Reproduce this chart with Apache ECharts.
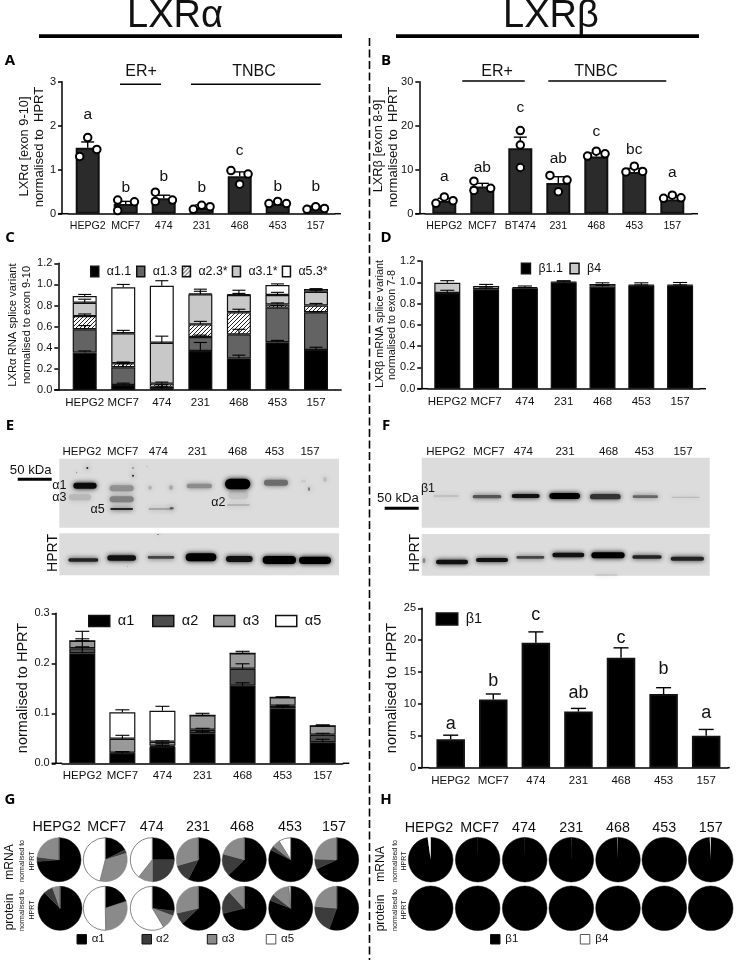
<!DOCTYPE html>
<html><head><meta charset="utf-8">
<style>html,body{margin:0;padding:0;background:#fff}#c{width:736px;height:963px}</style>
<script src="https://cdn.jsdelivr.net/npm/echarts@6/dist/echarts.min.js"></script>
</head><body><div id="c"></div>
<script>
const FONT='"Liberation Sans",Arial,sans-serif';
const cellLines=['HEPG2','MCF7','474','231','468','453','157'];
const cellLinesB=['HEPG2','MCF7','BT474','231','468','453','157'];

// Panel A
const valsA=[1.5,0.22,0.35,0.13,0.85,0.22,0.12];
const capsA=[1.63,0.28,0.42,0.2,0.95,0.26,0.17];
const dotsA=[[1.73,1.30,1.46],[0.31,0.07,0.27],[0.49,0.28,0.31],[0.10,0.19,0.16],[0.98,0.67,0.90],[0.23,0.28,0.23],[0.10,0.16,0.12]];
const jitterA=[[0,-0.21,0.24],[-0.21,-0.21,0.23],[-0.22,-0.22,0.23],[-0.22,0,0.22],[-0.23,0,0.22],[-0.23,0,0.23],[-0.23,0,0.23]];
const lettersA=['a','b','b','b','c','b','b'];
const letterYA=[2.24,0.58,0.84,0.58,1.43,0.61,0.61];
// Panel B
const valsB=[2.9,6.2,14.9,7.0,13.0,9.5,3.2];
const capsB=[3.5,6.9,17.4,8.4,13.8,10.3,3.8];
const dotsB=[[2.35,3.8,2.95],[7.4,5.3,5.76],[18.9,15.6,10.5],[8.7,5.0,7.65],[13.1,14.2,13.6],[9.5,10.8,9.6],[3.5,4.2,3.6]];
const jitterB=[[-0.22,0,0.23],[-0.22,-0.22,0.22],[0,0,0],[-0.22,0,0.23],[-0.23,0,0.23],[-0.22,0,0.22],[-0.23,0,0.23]];
const lettersB=['a','ab','c','ab','c','bc','a'];
const letterYB=[8.4,10.5,24.2,12.6,18.6,14.6,9.3];
// Panel C (stacked)
const c_a11=[0.354,0.047,0.01,0.37,0.30,0.452,0.38];
const c_a13=[0.221,0.168,0.02,0.132,0.227,0.328,0.356];
const c_a23=[0.125,0.038,0.03,0.12,0.209,0.03,0.064];
const c_a31=[0.127,0.284,0.388,0.284,0.164,0.09,0.13];
const c_a53=[0.063,0.436,0.54,0.01,0.006,0.095,0.027];
const capsC=[[0.37,0.065,0.03,0.45,0.33,0.47,0.405],[0.61,0.25,0.05,0.52,0.575,0.80,0.74],[0.72,0.265,0.075,0.65,0.765,0.825,0.82],[0.86,0.565,0.51,0.935,0.915,0.925,0.945],[0.905,1.0,1.035,0.955,0.945,1.005,0.96]];
// Panel D (stacked)
const d_b11=[0.90,0.935,0.945,1.0,0.96,0.97,0.97];
const d_b4=[0.095,0.03,0.01,0.005,0.025,0.005,0.005];
const capsD=[[0.925,0.955,0.95,1.005,0.97,0.975,0.975],[1.015,0.98,0.965,1.015,0.995,0.995,0.998]];
// Panel E (stacked)
const e_a1=[0.22,0.02,0.033,0.06,0.155,0.11,0.042];
const e_a2=[0.01,0.001,0.002,0.007,0.034,0.005,0.015];
const e_a3=[0.015,0.028,0.008,0.029,0.031,0.017,0.018];
const e_a5=[0,0.053,0.062,0,0,0,0];
const capsE=[[0.233,0.023,0.036,0.064,0.161,0.113,0.048],[0.249,0.023,0.04,0.07,0.199,0.116,0.06],[0.264,0.056,0.045,0.10,0.224,0.133,0.077],[0.264,0.107,0.114,0.10,0.224,0.133,0.077]];
// Panel F
const valsF=[4.45,10.7,19.6,8.8,17.26,11.56,5.0];
const capsF=[5.1,11.56,21.3,9.3,18.8,12.55,6.0];
const lettersF=['a','b','c','ab','c','b','a'];
const letterYF=[6.85,13.65,23.95,11.66,20.3,15.43,8.5];
// Panel G: pie shares (α1, α2, α3, α5)
const pieGmRNA=[[265,12,83,0],[63,10,121,166],[90,90,38,142],[207,47,106,0],[226,59,75,0],[296,12,20,32],[245,27,88,0]];
const pieGprot=[[315,25,20,0],[71,1,107,181],[97,13,39,211],[226,31,103,0],[256,61,43,0],[291,17,47,5],[200,75,85,0]];
// Panel H: pie shares (β1, β4)
const pieHmRNA=[[352,8],[359.7,0.3],[359.7,0.3],[359.7,0.3],[359,1],[360,0],[357.5,2.5]];
const pieHprot=[[360,0],[360,0],[360,0],[360,0],[360,0],[360,0],[360,0]];

const namesG=['α1','α2','α3','α5'], colorsG=['#000','#3c3c3c','#8a8a8a','#fff'];
const namesH=['β1','β4'], colorsH=['#000','#fff'];

// layout of each panel's axes: first-band centre, band step, top, zero line, y-axis x, right end
const P={
 A:{c0:87.7,sp:38,top:81.7,bot:213.7,ax:62,right:341,max:3,int:1,dec:0,fs:10.6,yfs:11},
 B:{c0:444.3,sp:38,top:81.7,bot:213.7,ax:419.3,right:698,max:30,int:10,dec:0,fs:10.6,yfs:11},
 C:{c0:84.7,sp:38.55,top:263.3,bot:390,ax:58.3,right:341.7,max:1.2,int:0.2,dec:1,fs:11.5,yfs:11},
 D:{c0:447.3,sp:38.8,top:261,bot:388.7,ax:421.3,right:706,max:1.2,int:0.2,dec:1,fs:11.5,yfs:11},
 E:{c0:82.3,sp:40.07,top:613.3,bot:763.3,ax:55.7,right:349.3,max:0.3,int:0.1,dec:1,fs:11.5,yfs:11},
 F:{c0:450.7,sp:42.58,top:608.3,bot:767.7,ax:422,right:729.7,max:25,int:5,dec:0,fs:11.5,yfs:11}
};
const keys=['A','B','C','D','E','F'];
const grid=[],xAxis=[],yAxis=[],series=[],legend=[],g=[];
keys.forEach((k,i)=>{
 const p=P[k],left=p.c0-p.sp/2,w=p.sp*7;
 grid.push({left,top:p.top,width:w,height:p.bot-p.top});
 xAxis.push({type:'category',gridIndex:i,data:k==='B'?cellLinesB:cellLines,
  axisLine:{onZero:false,lineStyle:{color:'#000',width:1.5}},axisTick:{length:3.5,alignWithLabel:true,lineStyle:{color:'#000',width:1.2}},
  axisLabel:{interval:0,margin:7,hideOverlap:false,color:'#111',fontFamily:FONT,fontSize:p.fs}});
 xAxis.push({type:'value',gridIndex:i,min:-0.5,max:6.5,show:false});
 yAxis.push({type:'value',gridIndex:i,min:0,max:p.max,interval:p.int,offset:left-p.ax,splitLine:{show:false},
  axisLine:{show:true,onZero:false,lineStyle:{color:'#000',width:1.5}},axisTick:{show:true,length:4,lineStyle:{color:'#000',width:1.5}},
  axisLabel:{margin:6,color:'#111',fontFamily:FONT,fontSize:p.yfs,formatter:v=>v.toFixed(p.dec)}});
 g.push(line(p.ax-4,p.bot,left,p.bot,1.5),line(left+w,p.bot,p.right,p.bot,1.5));
});
function line(x1,y1,x2,y2,w,dash){return{type:'line',silent:true,z:10,shape:{x1,y1,x2,y2},style:{stroke:'#000',lineWidth:w,lineDash:dash||null}};}
function T(text,x,y,size,o){o=o||{};return{type:'text',silent:true,z:20,x,y,rotation:o.rot?Math.PI/2:0,style:{text,fill:o.fill||'#111',align:o.align||'center',verticalAlign:'middle',fontFamily:o.family||FONT,fontSize:size,fontWeight:o.weight||'normal'}};}

function bars(i,name,data,color,bw,stack,bd){
 series.push({type:'bar',name,xAxisIndex:2*i,yAxisIndex:i,data,barWidth:bw,stack,silent:true,z:2,
  itemStyle:{color,borderColor:'#111',borderWidth:bd||2}});
}
function errors(i,lows,highs,cap,lw){
 series.push({type:'custom',xAxisIndex:2*i+1,yAxisIndex:i,silent:true,z:3,clip:false,
  data:lows.map((l,j)=>[j,l,highs[j]]),encode:{x:0,y:[1,2]},
  renderItem(params,api){
   const a=api.coord([api.value(0),api.value(1)]),b=api.coord([api.value(0),api.value(2)]);
   const st={stroke:'#000',lineWidth:lw||1.4};
   return{type:'group',children:[
    {type:'line',shape:{x1:a[0],y1:a[1],x2:b[0],y2:b[1]},style:st},
    {type:'line',shape:{x1:b[0]-cap/2,y1:b[1],x2:b[0]+cap/2,y2:b[1]},style:st}]};
  }});
}
function dots(i,vals,jit){
 const d=[];vals.forEach((r,j)=>r.forEach((v,n)=>d.push([j+jit[j][n],v])));
 series.push({type:'scatter',xAxisIndex:2*i+1,yAxisIndex:i,data:d,symbol:'circle',symbolSize:7.5,silent:true,z:4,
  itemStyle:{color:'#fff',borderColor:'#000',borderWidth:2,opacity:1}});
}
function letters(i,lab,ys,size){
 series.push({type:'custom',xAxisIndex:2*i+1,yAxisIndex:i,silent:true,z:5,clip:false,
  data:ys.map((y,j)=>[j,y]),encode:{x:0,y:1},
  renderItem(params,api){
   const c=api.coord([api.value(0),api.value(1)]);
   return{type:'text',x:c[0],y:c[1],style:{text:lab[params.dataIndex],fill:'#111',fontFamily:FONT,fontSize:size,align:'center',verticalAlign:'middle'}};
  }});
}
function cumul(arrs){const out=[];let run=cellLines.map(()=>0);arrs.forEach(a=>{run=run.map((v,j)=>v+a[j]);out.push(run);});return out;}
function leg(name,left,top,w,h,size){
 legend.push({show:true,data:[name],left,top,itemWidth:w,itemHeight:h,padding:0,selectedMode:false,icon:'rect',
  itemStyle:{borderColor:'#111',borderWidth:1.5},
  textStyle:{fontFamily:FONT,fontSize:size,color:'#111',padding:[0,0,0,3]}});
}

// A, B
bars(0,'LXRα',valsA,'#2b2b2b',24);errors(0,valsA,capsA,13);dots(0,dotsA,jitterA);letters(0,lettersA,letterYA,15.5);
bars(1,'LXRβ',valsB,'#2b2b2b',24);errors(1,valsB,capsB,13);dots(1,dotsB,jitterB);letters(1,lettersB,letterYB,15.5);
// C
const hc=document.createElement('canvas');hc.width=4;hc.height=4;
(function(){const x=hc.getContext('2d');x.fillStyle='#fff';x.fillRect(0,0,4,4);x.strokeStyle='#222';x.lineWidth=1;x.beginPath();
 x.moveTo(-1,1);x.lineTo(1,-1);x.moveTo(-1,5);x.lineTo(5,-1);x.moveTo(3,5);x.lineTo(5,3);x.stroke();})();
const hatchFill={image:hc,repeat:'repeat'};
const stackC=[['α1.1',c_a11,'#000'],['α1.3',c_a13,'#636363'],['α2.3*',c_a23,hatchFill],['α3.1*',c_a31,'#c8c8c8'],['α5.3*',c_a53,'#fff']];
stackC.forEach(s=>bars(2,s[0],s[1],s[2],24,'C',1.2));
const cumC=cumul([c_a11,c_a13,c_a23,c_a31,c_a53]);
capsC.forEach((c,n)=>errors(2,cumC[n],c,13,1.1));
[['α1.1',90],['α1.3',136],['α2.3*',181.7],['α3.1*',231.7],['α5.3*',281.7]].forEach(l=>leg(l[0],l[1],265.5,8,10.5,12.4));
// D
bars(3,'β1.1',d_b11,'#000',26,'D',1.2);bars(3,'β4',d_b4,'#c8c8c8',26,'D',1.2);
const cumD=cumul([d_b11,d_b4]);capsD.forEach((c,n)=>errors(3,cumD[n],c,14,1.1));
leg('β1.1',520.7,262.5,9,10.5,12.4);leg('β4',569.3,262.5,9,10.5,12.4);
// E
const stackE=[['α1',e_a1,'#000'],['α2',e_a2,'#4d4d4d'],['α3',e_a3,'#999'],['α5',e_a5,'#fff']];
stackE.forEach(s=>bars(4,s[0],s[1],s[2],26,'E',1.2));
const cumE=cumul([e_a1,e_a2,e_a3,e_a5]);
capsE.forEach((c,n)=>{errors(4,cumE[n],c.map((v,j)=>n===3&&e_a5[j]===0?cumE[n][j]:v),14,1.1);});
[['α1',88],['α2',152],['α3',213],['α5',275]].forEach(l=>leg(l[0],l[1],613.5,21,11,14.5));
// F
bars(5,'β1',valsF,'#000',28.5);errors(5,valsF,capsF,15);letters(5,lettersF,letterYF,18);
leg('β1',435.5,611.5,21.5,12,14.5);

// pies
function pies(rows,names,colors,xs,y,r){
 rows.forEach((row,i)=>series.push({type:'pie',silent:true,center:[xs[i],y],radius:[0,r],startAngle:90,clockwise:true,
  label:{show:false},labelLine:{show:false},emphasis:{disabled:true},
  data:row.map((v,n)=>({name:names[n],value:v,itemStyle:{color:colors[n],
    borderColor:colors[n]==='#fff'?(names.length>2?'#666':'#fff'):colors[n],borderWidth:colors[n]==='#fff'?(names.length>2?0.8:0):0.5}}))}));
}
const xG=[59,105.3,152.3,198.3,244.3,290.7,336.7],xGp=[60,105.3,152.3,198.3,244.3,290.7,336.7];
const xH=[430.7,477.7,524.7,571.3,618,664.3,710.7];
pies(pieGmRNA,namesG,colorsG,xG,859.7,22);pies(pieGprot,namesG,colorsG,xGp,908.3,22);
pies(pieHmRNA,namesH,colorsH,xH,859.7,22.3);pies(pieHprot,namesH,colorsH,xH,908.3,22.3);

// titles and rules
g.push(T('LXRα',175,17,38),T('LXRβ',551,17,38));
g.push({type:'rect',silent:true,shape:{x:39,y:34.3,width:303,height:3.6},style:{fill:'#000'}});
g.push({type:'rect',silent:true,shape:{x:396,y:34.3,width:303,height:3.6},style:{fill:'#000'}});
g.push(line(369.5,38,369.5,960,1.6,[8,3.5]));
// panel letters
const LB={family:'"Open Sans",sans-serif',weight:'bold',fill:'#000'};
[['A',10,61],['B',386,61],['C',10,238],['D',386,238],['E',10,426],['F',386,426],['G',10,800],['H',386,800]].forEach(l=>g.push(T(l[0],l[1],l[2],15,LB)));
// group headers
g.push(T('ER+',141,71.5,16),T('TNBC',254,71.5,16),line(120,84.3,161,84.3,1.4),line(191,84.3,320.7,84.3,1.4));
g.push(T('ER+',497,71.5,16),T('TNBC',596,71.5,16),line(462.3,81,524.7,81,1.4),line(548.3,81,666.3,81,1.4));
// y axis titles
const R={rot:true};
g.push(T('LXRα [exon 9-10]',24.3,146.5,12.8,R),T('normalised to  HPRT',39.3,147,13,R));
g.push(T('LXRβ [exon 8-9]',378,146,12.8,R),T('normalised to  HPRT',393,147,13,R));
g.push(T('LXRα RNA splice variant',13.3,325,11.2,R),T('normalised to exon 9-10',27.3,325,11,R));
g.push(T('LXRβ mRNA splice variant',379.7,324,10.8,R),T('normalised to exon 7-8',392,325,10.8,R));
g.push(T('normalised to HPRT',22.7,688,14.5,R),T('normalised to HPRT',392,688,14.5,R));

// blots (images of gels, painted as soft rounded strips; zoomed-crop coordinates / 3)
function rectB(x,y,w,h){g.push({type:'rect',silent:true,z:1,shape:{x,y,width:w,height:h},style:{fill:'#dcdcdc'}});}
function bands(list,ox,oy){list.forEach(b=>{const rx=b[2]/3,ry=b[3]/3;g.push({type:'rect',silent:true,z:2,shape:{x:b[0]/3+ox-rx,y:b[1]/3+oy-ry,width:2*rx,height:2*ry,r:Math.min(rx,ry)},style:{fill:b[4],shadowBlur:5,shadowColor:b[4]}});});}
rectB(59.3,458.7,279.7,69);rectB(59.3,533.3,279.7,42);
rectB(421.7,457.7,288,70);rectB(421.7,534,288,41.7);
const bandsE=[[240,232,33,9,'#b8b8b8'],[255,197,35,9,'#0a0a0a'],[365,205,36,9,'#909090'],[365,238,36,9,'#808080'],[365,267,34,3,'#222'],
 [450,203,5,6,'#b0b0b0'],[513,203,6,7,'#aaa'],[482,267,36,2,'#999'],[515,265,6,3,'#555'],[598,198,38,7,'#8c8c8c'],[715,225,30,12,'#c4c4c4'],[713,192,38,16,'#000'],[715,255,34,2,'#aaa'],
 [828,188,36,9,'#6c6c6c'],[910,184,8,3,'#c8c8c8'],[975,178,5,7,'#bbb'],[927,207,2,5,'#555'],
 [262,144,3,3,'#222'],[230,157,2,2,'#888'],[399,144,2,2,'#444'],[399,167,3,3,'#222'],[441,139,1,1,'#444'],
 [250,420,45,5,'#222'],[365,414,43,8,'#111'],[483,412,40,4,'#444'],[603,412,46,12,'#000'],[718,417,40,9,'#111'],[838,420,50,12,'#000'],[945,421,48,11,'#000'],[474,343,2,1,'#222'],[383,440,1,1,'#555']];
bands(bandsE,0,420);
const bandsF=[[235,228,38,2,'#bbb'],[357,230,43,5,'#555'],[473,228,42,6,'#111'],[590,228,46,9,'#000'],[712,230,46,8,'#333'],[832,230,38,4,'#666'],[953,232,42,2,'#bbb'],
 [252,426,48,7,'#111'],[372,420,48,6,'#111'],[487,412,42,4,'#444'],[601,405,48,7,'#111'],[720,406,50,9,'#000'],[837,411,44,5,'#222'],[958,416,50,6,'#222'],[168,422,4,7,'#888'],[715,465,33,1,'#999']];
bands(bandsF,368,420);
[[246,'HEPG2'],[368,'MCF7'],[475,'474'],[592,'231'],[713,'468'],[824,'453'],[930,'157']].forEach(l=>g.push(T(l[1],l[0]/3,452.3,11.5)));
[[233,'HEPG2'],[363,'MCF7'],[466,'474'],[591,'231'],[722,'468'],[829,'453'],[945,'157']].forEach(l=>g.push(T(l[1],l[0]/3+368,452.3,11.5)));
g.push(T('50 kDa',30.7,470,13.2),{type:'rect',silent:true,shape:{x:17.7,y:477.8,width:34,height:3},style:{fill:'#000'}});
g.push(T('50 kDa',398,498.3,13.2),{type:'rect',silent:true,shape:{x:384.7,y:506.8,width:34,height:3},style:{fill:'#000'}});
g.push(T('α1',59.3,485.7,12.5),T('α3',59.3,497.7,12.5),T('α5',97.7,509.3,12.5),T('α2',218.3,502.3,12.5));
g.push(T('β1',428,488.3,12.5));
g.push(T('HPRT',52.7,553,14,R),T('HPRT',414.7,553,14,R));

// G, H labels
[56.7,106.7,151.7,198,242,290,334].forEach((x,i)=>g.push(T(cellLines[i],x,826.7,14.3)));
[429,479.7,524,571.3,618,664.3,710.7].forEach((x,i)=>g.push(T(cellLines[i],x,827.7,14.3)));
g.push(T('mRNA',9.5,862,12,R),T('protein',9.5,912,12,R));
g.push(T('normalised to',21.7,861,7,R),T('HPRT',31.7,861,7,R),T('normalised to',21.7,910,7,R),T('HPRT',31.7,910,7,R));
g.push(T('mRNA',380.7,864,12,R),T('protein',380.7,913,12,R));
g.push(T('normalised to',394.7,861,7,R),T('HPRT',404,861,7,R),T('normalised to',394.7,910,7,R),T('HPRT',404,910,7,R));
function swatch(x,label,tx,fill){g.push({type:'rect',silent:true,shape:{x,y:934.5,width:9.5,height:9.5},style:{fill,stroke:fill==='#fff'?'#555':'#111',lineWidth:1}},T(label,tx,939.3,11.5,{align:'left'}));}
swatch(77,'α1',91.7,'#000');swatch(142,'α2',156,'#3c3c3c');swatch(207.3,'α3',221.7,'#8a8a8a');swatch(266.3,'α5',281,'#fff');
swatch(490.5,'β1',505.3,'#000');swatch(580.3,'β4',595.3,'#fff');

const chart=echarts.init(document.getElementById('c'),null,{renderer:'canvas'});
chart.setOption({animation:false,backgroundColor:'#fff',grid,xAxis,yAxis,series,legend,graphic:{elements:g}});
</script></body></html>
